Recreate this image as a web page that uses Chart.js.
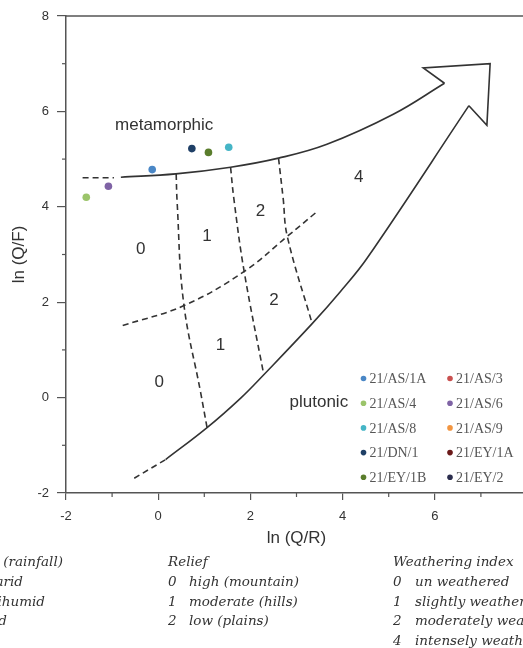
<!DOCTYPE html>
<html>
<head>
<meta charset="utf-8">
<script src="https://cdn.jsdelivr.net/npm/chart.js@4.4.0/dist/chart.umd.min.js"></script>
<style>
  html, body { margin: 0; padding: 0; background: #fff; overflow: hidden; }
  #wrap { width: 523px; height: 648px; overflow: hidden; }
  canvas { display: block; }
</style>
</head>
<body>
<div id="wrap"><canvas id="myChart" width="560" height="648"></canvas></div>
<script>
// samples (ln Q/R, ln Q/F)
var sampleNames = ['21/AS/1A', '21/AS/3', '21/AS/4', '21/AS/6', '21/AS/8',
                   '21/AS/9', '21/DN/1', '21/EY/1A', '21/EY/1B', '21/EY/2'];
var sampleQR = [-0.13, null, -1.56, -1.08, 1.53, null, 0.73, null, 1.09, null];
var sampleQF = [4.78, null, 4.20, 4.43, 5.25, null, 5.22, null, 5.14, null];
var sampleColors = ['#4a87c6', '#c9504f', '#9bc46a', '#7f63a5', '#45b5c6',
                    '#f29540', '#1f3f66', '#6b1a1a', '#5a7d2c', '#2b2d4d'];

// field boundaries
var metaDashQR = [-1.64, -0.96];
var metaDashQF = [4.61, 4.61];
var metaQR = [-0.81, 0.38, 1.57, 2.61, 3.66, 5.10, 6.21];
var metaQF = [4.62, 4.69, 4.83, 5.02, 5.31, 5.94, 6.59];
var arrowQR = [6.21, 5.75, 7.20, 7.13, 6.74];
var arrowQF = [6.59, 6.91, 7.00, 5.71, 6.12];
var plutoQR = [0.16, 1.06, 1.79, 2.29, 3.34, 3.95, 4.53, 6.74];
var plutoQF = [-1.30, -0.63, -0.01, 0.48, 1.55, 2.22, 2.92, 6.12];
var plutoDashQR = [-0.52, 0.16];
var plutoDashQF = [-1.69, -1.30];
var relief1QR = [0.39, 0.41, 0.55, 0.92, 1.06];
var relief1QF = [4.69, 4.11, 2.00, 0.11, -0.63];
var relief2QR = [1.57, 1.64, 1.86, 2.29];
var relief2QF = [4.83, 4.18, 2.67, 0.48];
var relief3QR = [2.61, 2.71, 2.80, 3.34];
var relief3QF = [5.02, 4.18, 3.38, 1.55];
var climQR = [-0.77, 0.56, 1.86, 2.80, 3.41];
var climQF = [1.51, 1.93, 2.64, 3.38, 3.87];

// zone numbers
var zoneText = ['0', '1', '2', '4', '2', '1', '0'];
var zoneQR = [-0.38, 1.06, 2.22, 4.35, 2.51, 1.35, 0.02];
var zoneQF = [3.10, 3.38, 3.90, 4.61, 2.04, 1.09, 0.32];

var yTicks = [-2, 0, 2, 4, 6, 8];
var xTicks = [-2, 0, 2, 4, 6, 8];

var reliefLines = ['high (mountain)', 'moderate (hills)', 'low (plains)'];
var reliefIdx = ['0', '1', '2'];
var weatherLines = ['un weathered', 'slightly weathered', 'moderately weathered', 'intensely weathered'];
var weatherIdx = ['0', '1', '2', '4'];
var climateLines = ['Climate (rainfall)', '0  arid', '1  semihumid', '2  humid'];

function pts(xs, ys) {
  return xs.map(function (x, i) { return {x: x, y: ys[i]}; });
}

function curve(xs, ys, dashed, tension) {
  return {
    type: 'line',
    data: pts(xs, ys),
    showLine: true,
    borderColor: '#333',
    borderWidth: 1.6,
    borderDash: dashed ? [6, 4] : [],
    pointRadius: 0,
    tension: tension,
    fill: false
  };
}

var datasets = [
  curve(metaDashQR, metaDashQF, true, 0),
  curve(metaQR, metaQF, false, 0.4),
  curve(arrowQR, arrowQF, false, 0),
  curve(plutoQR, plutoQF, false, 0.4),
  curve(plutoDashQR, plutoDashQF, true, 0),
  curve(relief1QR, relief1QF, true, 0.4),
  curve(relief2QR, relief2QF, true, 0.4),
  curve(relief3QR, relief3QF, true, 0.4),
  curve(climQR, climQF, true, 0.4)
];

sampleNames.forEach(function (name, i) {
  datasets.push({
    label: name,
    data: sampleQR[i] == null ? [] : [{x: sampleQR[i], y: sampleQF[i]}],
    backgroundColor: sampleColors[i],
    borderWidth: 0,
    pointRadius: 3.8,
    showLine: false
  });
});

var overlay = {
  id: 'overlay',
  afterDraw: function (chart) {
    var ctx = chart.ctx, xs = chart.scales.x, ys = chart.scales.y, a = chart.chartArea;
    ctx.save();
    // top frame
    ctx.strokeStyle = '#555';
    ctx.lineWidth = 1.5;
    ctx.beginPath();
    ctx.moveTo(a.left, a.top);
    ctx.lineTo(a.right + 10, a.top);
    ctx.stroke();
    // minor ticks
    ctx.lineWidth = 1.2;
    [-1, 1, 3, 5, 7].forEach(function (v) {
      var py = ys.getPixelForValue(v);
      ctx.beginPath(); ctx.moveTo(a.left, py); ctx.lineTo(a.left - 4, py); ctx.stroke();
      var px = xs.getPixelForValue(v);
      ctx.beginPath(); ctx.moveTo(px, a.bottom); ctx.lineTo(px, a.bottom + 4); ctx.stroke();
    });

    // zone numbers
    ctx.fillStyle = '#333';
    ctx.font = '17px "Liberation Sans", Arial, sans-serif';
    ctx.textAlign = 'center';
    ctx.textBaseline = 'middle';
    zoneText.forEach(function (t, i) {
      ctx.fillText(t, xs.getPixelForValue(zoneQR[i]), ys.getPixelForValue(zoneQF[i]));
    });
    ctx.fillText('metamorphic', xs.getPixelForValue(0.13), ys.getPixelForValue(5.70));
    ctx.textAlign = 'right';
    ctx.fillText('plutonic', xs.getPixelForValue(4.12), ys.getPixelForValue(-0.09));

    // legend
    ctx.font = '14px "Liberation Serif", "Times New Roman", serif';
    ctx.textAlign = 'left';
    sampleNames.forEach(function (name, i) {
      var col = i % 2, row = Math.floor(i / 2);
      var mx = 363.5 + col * 86.5, my = 378.5 + row * 24.7;
      ctx.fillStyle = sampleColors[i];
      ctx.beginPath(); ctx.arc(mx, my, 2.8, 0, Math.PI * 2); ctx.fill();
      ctx.fillStyle = '#555';
      ctx.fillText(name, mx + 6, my + 1);
    });

    // key text under the chart
    ctx.fillStyle = '#333';
    ctx.font = 'italic 13.5px "DejaVu Serif", serif';
    var ends = [63, 23, 45, 7];
    var y0 = 562.7, dy = 19.7;
    climateLines.forEach(function (t, k) {
      ctx.textAlign = 'right';
      ctx.fillText(t, ends[k], y0 + k * dy);
    });
    ctx.textAlign = 'left';
    ctx.fillText('Relief', 168, y0);
    reliefLines.forEach(function (t, k) {
      ctx.fillText(reliefIdx[k], 168, y0 + (k + 1) * dy);
      ctx.fillText(t, 189, y0 + (k + 1) * dy);
    });
    ctx.fillText('Weathering index', 393, y0);
    weatherLines.forEach(function (t, k) {
      ctx.fillText(weatherIdx[k], 393, y0 + (k + 1) * dy);
      ctx.fillText(t, 415, y0 + (k + 1) * dy);
    });
    ctx.restore();
  }
};

var ctx = document.getElementById('myChart').getContext('2d');
var myChart = new Chart(ctx, {
  type: 'scatter',
  data: { datasets: datasets },
  options: {
    responsive: false,
    animation: false,
    devicePixelRatio: 1,
    layout: { padding: { left: 0, right: 33, top: 16, bottom: 95 } },
    plugins: {
      legend: { display: false },
      tooltip: { enabled: false }
    },
    scales: {
      x: {
        type: 'linear',
        min: -2,
        max: 8,
        afterFit: function (s) { s.height = 60; },
        afterBuildTicks: function (s) { s.ticks = xTicks.map(function (v) { return {value: v}; }); },
        border: { display: true, color: '#555', width: 1.5 },
        grid: { drawOnChartArea: false, drawTicks: true, tickLength: 7, color: '#555', lineWidth: 1.2 },
        ticks: { autoSkip: false, maxRotation: 0, padding: 9, color: '#333',
                 font: { family: '"Liberation Sans", Arial, sans-serif', size: 13 } },
        title: { display: true, text: 'ln (Q/R)', color: '#333', padding: { top: 0, bottom: 4 },
                 font: { family: '"Liberation Sans", Arial, sans-serif', size: 17 } }
      },
      y: {
        type: 'linear',
        min: -2,
        max: 8,
        afterFit: function (s) { s.width = 66; },
        afterBuildTicks: function (s) { s.ticks = yTicks.map(function (v) { return {value: v}; }); },
        border: { display: true, color: '#555', width: 1.5 },
        grid: { drawOnChartArea: false, drawTicks: true, tickLength: 9, color: '#555', lineWidth: 1.2 },
        ticks: { autoSkip: false, padding: 8, color: '#333',
                 font: { family: '"Liberation Sans", Arial, sans-serif', size: 13 } },
        title: { display: true, text: 'ln (Q/F)', color: '#333', padding: { top: 9, bottom: 0 },
                 font: { family: '"Liberation Sans", Arial, sans-serif', size: 17 } }
      }
    }
  },
  plugins: [overlay]
});
</script>
</body>
</html>
